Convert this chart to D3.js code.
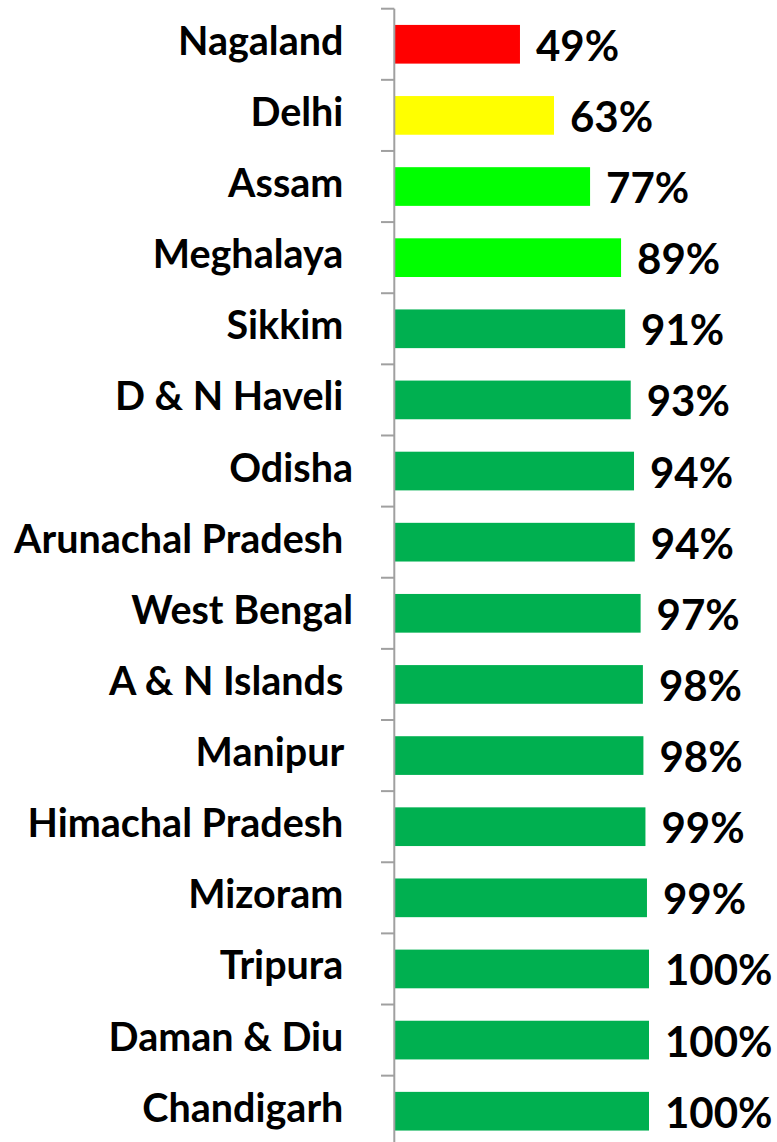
<!DOCTYPE html>
<html>
<head>
<meta charset="utf-8">
<script src="https://cdn.jsdelivr.net/npm/d3@7"></script>
<style>
  html, body { margin: 0; padding: 0; background: #fff; }
  svg { display: block; }
  text { font-family: Lato, "Open Sans", sans-serif; font-weight: bold; fill: #000; white-space: pre; }
</style>
</head>
<body>
<svg id="chart" width="777" height="1142"></svg>
<script>
const categories = ["Nagaland ", "Delhi ", "Assam ", "Meghalaya ", "Sikkim ", "D & N Haveli ", "Odisha", "Arunachal Pradesh ", "West Bengal", "A & N Islands ", "Manipur ", "Himachal Pradesh ", "Mizoram ", "Tripura ", "Daman & Diu ", "Chandigarh "];
const values = [0.492, 0.626, 0.768, 0.890, 0.906, 0.928, 0.941, 0.944, 0.967, 0.976, 0.978, 0.986, 0.992, 1.0, 1.0, 1.0];
const barColors = ["#ff0000", "#ffff00", "#00ff00", "#00ff00", "#00b050", "#00b050", "#00b050", "#00b050", "#00b050", "#00b050", "#00b050", "#00b050", "#00b050", "#00b050", "#00b050", "#00b050"];

const data = categories.map((c, i) => ({ cat: c, value: values[i], color: barColors[i] }));

const svg = d3.select("#chart");

const y = d3.scaleBand()
  .domain(categories)
  .range([8.7, 8.7 + 71.13 * categories.length])
  .paddingInner(0.456)
  .paddingOuter(0.228);

const x = d3.scaleLinear().domain([0, 1]).range([395, 649]);

const axisX = 394.3;

// bars
svg.append("g").selectAll("rect")
  .data(data)
  .join("rect")
  .attr("x", x(0))
  .attr("y", d => y(d.cat))
  .attr("width", d => x(d.value) - x(0))
  .attr("height", y.bandwidth())
  .attr("fill", d => d.color);

// axis line and boundary ticks
const axisG = svg.append("g");
axisG.append("line")
  .attr("x1", axisX).attr("x2", axisX)
  .attr("y1", y.range()[0]).attr("y2", 1142)
  .attr("stroke", "#a0a0a0").attr("stroke-width", 2);

const gap = y.step() * y.paddingInner() / 2;
const boundaries = categories.map(c => y(c) - gap);
axisG.selectAll("line.tick")
  .data(boundaries)
  .join("line")
  .attr("class", "tick")
  .attr("x1", 381).attr("x2", axisX)
  .attr("y1", d => d).attr("y2", d => d)
  .attr("stroke", "#a0a0a0").attr("stroke-width", 2);

// category labels
svg.append("g").selectAll("text")
  .data(data)
  .join("text")
  .attr("x", 353)
  .attr("y", d => y(d.cat) + y.bandwidth() / 2 + 10.5)
  .attr("text-anchor", "end")
  .attr("font-size", 39.5)
  .text(d => d.cat);

// value labels
const fmt = d3.format(".0%");
svg.append("g").selectAll("text")
  .data(data)
  .join("text")
  .attr("x", d => x(d.value) + 16)
  .attr("y", d => y(d.cat) + y.bandwidth() / 2 + 16.5)
  .attr("font-size", 42)
  .text(d => fmt(d.value));
</script>
</body>
</html>
